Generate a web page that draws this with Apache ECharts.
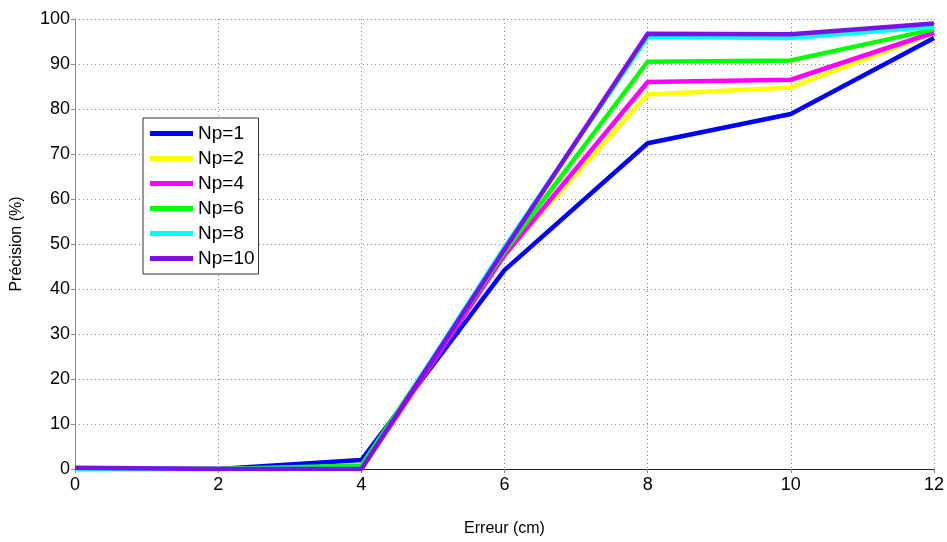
<!DOCTYPE html>
<html><head><meta charset="utf-8">
<script src="https://cdn.jsdelivr.net/npm/echarts@6/dist/echarts.min.js"></script>
<style>html,body{margin:0;padding:0;background:#fff}#c{width:947px;height:542px}</style>
</head><body><div id="c"></div>
<script>
const xValues = [0, 2, 4, 6, 8, 10, 12];
const seriesNames = ['Np=1', 'Np=2', 'Np=4', 'Np=6', 'Np=8', 'Np=10'];
const np1 = [0, 0, 2.0, 44.2, 72.4, 78.9, 95.8];
const np2 = [0, 0, 0.2, 47.8, 83.2, 84.8, 96.9];
const np4 = [0, 0, 0, 47.5, 86.0, 86.5, 97.0];
const np6 = [0, 0, 0.8, 48.3, 90.5, 90.8, 97.7];
const np8 = [0, 0, 0, 49.3, 96.0, 95.8, 98.3];
const np10 = [0.3, 0, 0, 48.8, 96.7, 96.6, 99.0];
const colors = ['#0000ff', '#ffff00', '#ff00ff', '#00ff00', '#00ffff', '#7a12e6'];
const allData = [np1, np2, np4, np6, np8, np10];

const chart = echarts.init(document.getElementById('c'));
const font = 'Liberation Sans, Arial, sans-serif';
chart.setOption({
  animation: false,
  backgroundColor: '#fff',
  grid: {left: 75, right: 12, top: 19, bottom: 66, containLabel: false},
  legend: {
    left: 143, top: 118, orient: 'vertical',
    backgroundColor: '#fff', borderColor: '#333', borderWidth: 1,
    padding: [6, 4, 6, 7], itemGap: 6,
    itemWidth: 43, itemHeight: 5, icon: 'rect',
    textStyle: {fontFamily: font, fontSize: 19, color: '#000', padding: [0, 0, 0, 0]},
    data: seriesNames
  },
  xAxis: {
    type: 'value', min: 0, max: 12, interval: 2,
    name: 'Erreur (cm)', nameLocation: 'middle', nameGap: 52,
    nameTextStyle: {fontFamily: font, fontSize: 16, color: '#000'},
    axisLine: {show: true, onZero: false, lineStyle: {color: '#222', width: 1}},
    axisTick: {show: true, inside: false, length: 4, lineStyle: {color: '#888'}},
    axisLabel: {fontFamily: font, fontSize: 18, color: '#000', margin: 7},
    splitLine: {show: true, lineStyle: {color: '#888', type: [1, 3], width: 1}}
  },
  yAxis: {
    type: 'value', min: 0, max: 100, interval: 10,
    name: 'Précision (%)', nameLocation: 'middle', nameGap: 50, nameRotate: 90,
    nameTextStyle: {fontFamily: font, fontSize: 16, color: '#000'},
    axisLine: {show: true, lineStyle: {color: '#888', width: 1}},
    axisTick: {show: true, inside: false, length: 4, lineStyle: {color: '#888'}},
    axisLabel: {fontFamily: font, fontSize: 18, color: '#000', margin: 5},
    splitLine: {show: true, lineStyle: {color: '#888', type: [1, 3], width: 1}}
  },
  series: seriesNames.map((n, i) => ({
    name: n, type: 'line', showSymbol: false, symbol: 'none',
    data: xValues.map((x, j) => [x, allData[i][j]]),
    lineStyle: {color: colors[i], width: 4.5},
    itemStyle: {color: colors[i]},
    z: 2 + i
  }))
});
</script></body></html>
